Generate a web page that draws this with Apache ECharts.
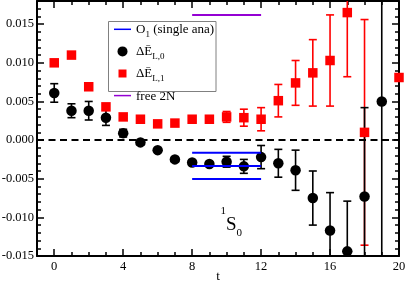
<!DOCTYPE html>
<html>
<head>
<meta charset="utf-8">
<script src="https://cdn.jsdelivr.net/npm/echarts@6/dist/echarts.min.js"></script>
<style>
html,body{margin:0;padding:0;background:#fff;}
#chart{width:407px;height:282px;}
</style>
</head>
<body>
<div id="chart"></div>
<script>
// ---- data ----
const tBlack = [0,1,2,3,4,5,6,7,8,9,10,11,12,13,14,15,16,17,18,19];
const eL0    = [0.0061,0.0038,0.0038,0.0029,0.0009,-0.0003,-0.0013,-0.0025,-0.0029,-0.0031,-0.0028,-0.0034,-0.0022,-0.0030,-0.0039,-0.0075,-0.0117,-0.0144,-0.0073,0.0050];
const eL0Err = [0.0012,0.0009,0.0012,0.0010,0.0005,0.0003,0.0002,0.0003,0.0003,0.0003,0.0007,0.0009,0.0015,0.0018,0.0026,0.0035,0.0049,0.0065,0.0115,0.0300];

const tRed   = [0,1,2,3,4,5,6,7,8,9,10,11,12,13,14,15,16,17,18,20];
const eL1    = [0.0100,0.0110,0.0069,0.0043,0.0030,0.0027,0.0021,0.0022,0.0027,0.0027,0.0030,0.0029,0.0027,0.0051,0.0074,0.0087,0.0103,0.0165,0.0010,0.0081];
const eL1Err = [0.0003,0.0001,0.0003,0.0003,0.0002,0.0002,0.0002,0.0002,0.0003,0.0004,0.0007,0.0011,0.0015,0.0021,0.0029,0.0043,0.0059,0.0083,0.0146,0.0003];

const tBand    = [8, 12];
const o1Levels = [-0.00165, -0.00335, -0.00505];   // O1 (single ana): upper, central, lower
const free2N   = 0.0162;
const zeroLineT = [-1, 20];

const xTicks = [0,4,8,12,16,20];
const yTicks = [-0.015,-0.010,-0.005,0.000,0.005,0.010,0.015];

// ---- minor tick positions ----
const xMinor = []; for (let i = -1; i <= 20; i++) xMinor.push(i);
const yMinor = []; for (let k = -15; k <= 18; k++) yMinor.push(k / 1000);

const serif = 'Liberation Serif';
const chart = echarts.init(document.getElementById('chart'));

function errBars(xs, ys, es, color, lw) {
  return {
    type: 'custom', clip: true, silent: true, z: 2,
    data: xs.map((x, i) => [x, ys[i], es[i]]),
    encode: { x: 0, y: 1 },
    renderItem: function (params, api) {
      const x = api.value(0), y = api.value(1), e = api.value(2);
      const hi = api.coord([x, y + e]), lo = api.coord([x, y - e]);
      const w = 4;
      const st = { stroke: color, lineWidth: lw };
      return { type: 'group', children: [
        { type: 'line', shape: { x1: hi[0], y1: hi[1], x2: lo[0], y2: lo[1] }, style: st },
        { type: 'line', shape: { x1: hi[0]-w, y1: hi[1], x2: hi[0]+w, y2: hi[1] }, style: st },
        { type: 'line', shape: { x1: lo[0]-w, y1: lo[1], x2: lo[0]+w, y2: lo[1] }, style: st }
      ]};
    }
  };
}

function xAx(pos, major) {
  return {
    type: 'value', position: pos, min: -1, max: 20,
    axisLine: { show: major, onZero: false, lineStyle: { color: '#000', width: 2 } },
    axisTick: { show: true, inside: true, length: major ? 7 : 4,
                customValues: major ? xTicks : xMinor,
                lineStyle: { color: '#000', width: 1.5 } },
    axisLabel: { show: major && pos === 'bottom', customValues: xTicks, margin: 4,
                 color: '#000', fontFamily: serif, fontSize: 12.5 },
    splitLine: { show: false },
    name: (major && pos === 'bottom') ? 't' : '',
    nameLocation: 'middle', nameGap: 14, nameMoveOverlap: false,
    nameTextStyle: { color: '#000', fontFamily: serif, fontSize: 13 }
  };
}
function yAx(pos, major) {
  return {
    type: 'value', position: pos, min: -0.015, max: 0.018,
    axisLine: { show: major, onZero: false, lineStyle: { color: '#000', width: 2 } },
    axisTick: { show: true, inside: true, length: major ? 7 : 4,
                customValues: major ? yTicks : yMinor,
                lineStyle: { color: '#000', width: 1.5 } },
    axisLabel: { show: major && pos === 'left', customValues: yTicks, margin: 3,
                 color: '#000', fontFamily: serif, fontSize: 12.5,
                 formatter: v => Number(v).toFixed(3) },
    splitLine: { show: false }
  };
}

const legendLabels = {
  'O1': '{n|O}{s|1}{n| (single ana)}',
  'dE0': '{n|ΔĒ}{s|L,0}',
  'dE1': '{n|ΔĒ}{s|L,1}',
  'free': '{n|free 2N}'
};
const lineIcon = 'path://M0,0M17,10M0,4.25L17,4.25L17,5.75L0,5.75Z';
const squareIcon = 'path://M0,0M17,10M4.5,1L12.5,1L12.5,9L4.5,9Z';

const series = [];
series.push({
  type: 'line', name: 'zero', data: zeroLineT.map(t => [t, 0]),
  symbol: 'none', silent: true, xAxisIndex: 0, yAxisIndex: 0,
  lineStyle: { color: '#000', width: 2, type: [7, 4.5] }
});
o1Levels.forEach(v => series.push({
  type: 'line', name: 'O1', data: tBand.map(t => [t, v]),
  symbol: 'none', silent: true,
  lineStyle: { color: '#0000ff', width: 2 }, itemStyle: { color: '#0000ff' }
}));
series.push({
  type: 'line', name: 'free', data: tBand.map(t => [t, free2N]),
  symbol: 'none', silent: true,
  lineStyle: { color: '#9400d3', width: 2 }, itemStyle: { color: '#9400d3' }
});
series.push(errBars(tRed, eL1, eL1Err, '#ff0000', 1.6));
series.push({
  type: 'scatter', name: 'dE1', data: tRed.map((t, i) => [t, eL1[i]]),
  symbol: 'rect', symbolSize: 9.5, itemStyle: { color: '#ff0000', opacity: 1 }, silent: true
});
series.push(errBars(tBlack, eL0, eL0Err, '#000000', 1.6));
series.push({
  type: 'scatter', name: 'dE0', data: tBlack.map((t, i) => [t, eL0[i]]),
  symbol: 'circle', symbolSize: 10.5, itemStyle: { color: '#000000', opacity: 1 }, silent: true
});

chart.setOption({
  animation: false,
  grid: { left: 37, right: 8, top: 1, bottom: 26, containLabel: false, outerBoundsMode: 'none' },
  xAxis: [xAx('bottom', true), xAx('bottom', false), xAx('top', true), xAx('top', false)],
  yAxis: [yAx('left', true), yAx('left', false), yAx('right', true), yAx('right', false)],
  legend: {
    show: true, selectedMode: false, orient: 'vertical', z: 6,
    left: 108, top: 21, padding: [2.3, 2, 0, 6],
    itemWidth: 17, itemHeight: 10, itemGap: 6.6,
    backgroundColor: 'transparent', borderWidth: 0,
    data: [
      { name: 'O1', icon: lineIcon, itemStyle: { color: '#0000ff', opacity: 1 } },
      { name: 'dE0', icon: 'circle', itemStyle: { color: '#000000', opacity: 1 } },
      { name: 'dE1', icon: squareIcon, itemStyle: { color: '#ff0000', opacity: 1 } },
      { name: 'free', icon: lineIcon, itemStyle: { color: '#9400d3', opacity: 1 } }
    ],
    formatter: name => legendLabels[name],
    textStyle: {
      color: '#000', fontFamily: serif, fontSize: 13,
      rich: {
        n: { fontFamily: serif, fontSize: 13, lineHeight: 12, verticalAlign: 'top', color: '#000' },
        s: { fontFamily: serif, fontSize: 9, lineHeight: 2, verticalAlign: 'top',
             padding: [6.5, 0, 0, 0], color: '#000' }
      }
    }
  },
  graphic: [
    { type: 'rect', z: 5, silent: true,
      shape: { x: 108.5, y: 21.5, width: 107.5, height: 70 },
      style: { fill: '#fff', stroke: '#808080', lineWidth: 1 } },
    { type: 'text', x: 220.5, y: 206, silent: true, z: 5,
      style: {
        text: '{sup|1}{S|S}{sub|0}', align: 'left', verticalAlign: 'top',
        rich: {
          sup: { fontFamily: serif, fontSize: 11, lineHeight: 2, verticalAlign: 'top', fill: '#000' },
          S:   { fontFamily: serif, fontSize: 19, lineHeight: 38, verticalAlign: 'middle', fill: '#000' },
          sub: { fontFamily: serif, fontSize: 11, lineHeight: 12, verticalAlign: 'bottom',
                 padding: [0, 0, 5.7, 0], fill: '#000' }
        }
      } }
  ],
  series: series
});
</script>
</body>
</html>
